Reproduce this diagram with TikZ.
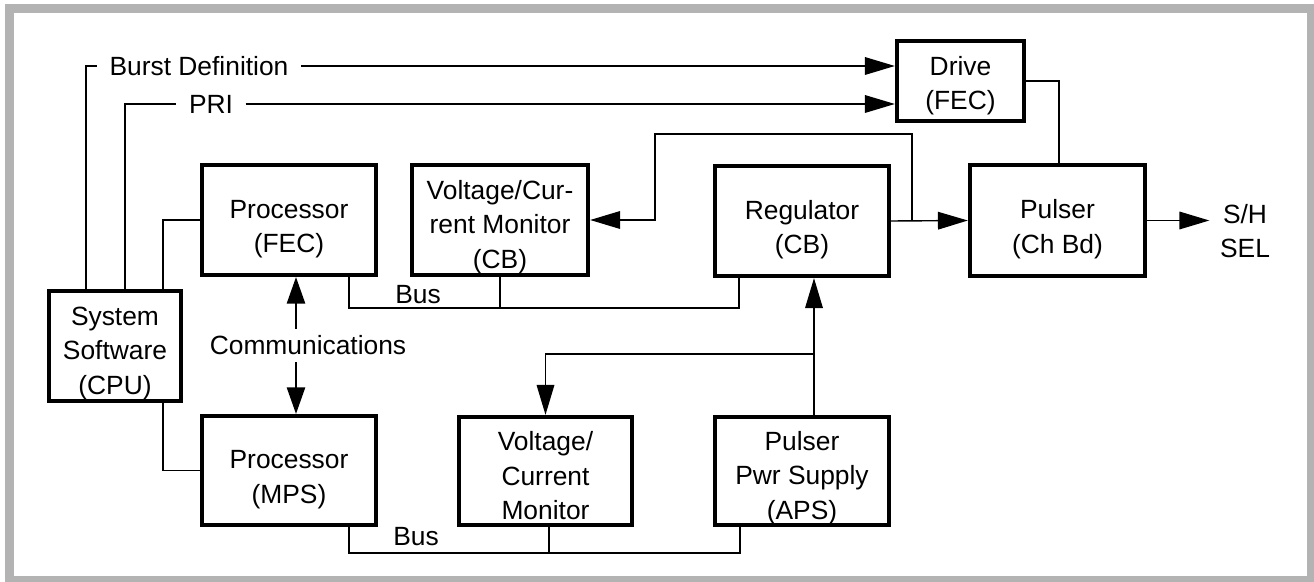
\documentclass[tikz,border=0pt]{standalone}
\usepackage{fontspec}
\setmainfont{Liberation Sans}
\usetikzlibrary{arrows.meta,positioning}
\usepackage{xcolor}
\definecolor{Frame}{HTML}{B3B3B3}
\newcommand{\topgap}{\rule{0pt}{9.4pt}}
\newcommand{\topgapx}{\rule{0pt}{10.4pt}}
\newcommand{\topgaps}{\rule{0pt}{8.2pt}}

\tikzset{
  blk/.style={draw,line width=1.2pt,minimum width=1.74cm,minimum height=1.10cm,
    align=center,inner sep=0pt},
  wire/.style={line width=0.4pt},
  arr/.style={wire,-{Triangle[length=8.5pt,width=5pt]}},
  darr/.style={wire,{Triangle[length=7.5pt,width=5.2pt]}-{Triangle[length=7.5pt,width=5.2pt]}},
  lbl/.style={inner xsep=12pt*0.2845,inner ysep=2pt}
}

\begin{document}
\begin{tikzpicture}[x=0.01cm,y=-0.01cm,font=\fontsize{7.5}{9.8}\selectfont]
    \useasboundingbox (0,0) rectangle (1314,582);
    \draw[Frame,line width=9pt*0.2845] (9.5,8.5) rectangle (1311,580.5);

    % boxes
    \node[blk] (fec) at (289,220) {\topgapx Processor\\(FEC)};
    \node[blk,minimum width=1.76cm] (vcmcb) at (500,220) {\topgap Voltage/Cur-\\rent Monitor\\(CB)};
    \node[blk] (reg) at (802,221) {\topgapx Regulator\\(CB)};
    \node[blk,minimum width=1.75cm,minimum height=1.11cm] (pulser) at (1057.5,220.5) {\topgapx Pulser\\(Ch Bd)};
    \node[blk,minimum width=1.27cm,minimum height=0.80cm] (drive) at (960.5,81) {\topgaps Drive\\(FEC)};
    \node[blk,minimum width=1.32cm] (sys) at (115,346) {\topgap System\\Software\\(CPU)};
    \node[blk,minimum height=1.09cm] (mps) at (289,470.5) {\topgapx Processor\\(MPS)};
    \node[blk,minimum width=1.73cm,minimum height=1.08cm] (vcm) at (545.5,471) {\topgaps Voltage/\\Current\\Monitor};
    \node[blk,minimum height=1.08cm] (aps) at (802,471) {\topgap Pulser\\Pwr Supply\\(APS)};

    % labels
    \node[lbl] (burst) at (199,66) {Burst Definition};
    \node[lbl] (pri) at (211,104) {PRI};
    \node[inner xsep=10pt*0.2845,align=center] (sh) at (1245,231) {S/H\\SEL};
    \node (bus1) at (418,295) {Bus};
    \node (bus2) at (416,537) {Bus};

    % software links
    \draw[wire] (86,0 |- sys.north) |- (burst.west);
    \draw[arr] (burst.east) -- (burst.east -| drive.west);
    \draw[wire] (125,0 |- sys.north) |- (pri.west);
    \draw[arr] (pri.east) -- (pri.east -| drive.west);
    \draw[wire] (163,0 |- sys.north) |- (fec.west);
    \draw[wire] (163,0 |- sys.south) |- (mps.west);
    \draw[darr] (296,0 |- fec.south) -- (296,0 |- mps.north)
      node[midway,fill=white,xshift=0.12cm,inner ysep=2pt] (comm) {Communications};

    % pulser chain
    \draw[wire] (drive.east) -| (1059,0 |- pulser.north);
    \draw[arr] (pulser.east) -- (pulser.east -| sh.west);
    \draw[arr] (reg.east) -- (pulser.west);
    \draw[arr] (912,0 |- reg.east) |- (655,134) |- (vcmcb.east);

    % buses
    \draw[wire] (349,0 |- fec.south) -- (349,308) -| (739,0 |- reg.south);
    \draw[wire] (vcmcb.south) -- (vcmcb.south |- 0,308);
    \draw[wire] (349,0 |- mps.south) -- (349,553) -| (740,0 |- aps.south);
    \draw[wire] (549,0 |- vcm.south) -- (549,553);

    % power supply
    \draw[arr] (814,0 |- aps.north) -- (814,0 |- reg.south);
    \draw[arr] (814,354) -| (vcm.north);
\end{tikzpicture}
\end{document}
